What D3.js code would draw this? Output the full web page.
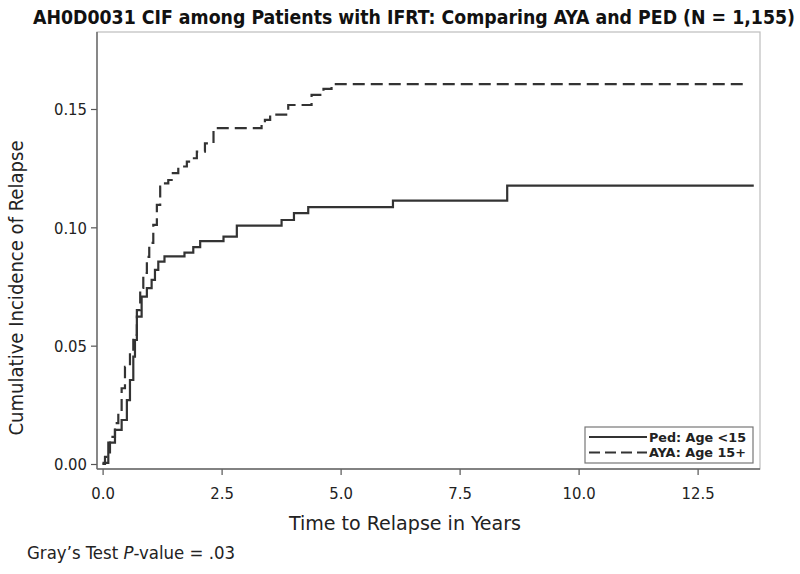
<!DOCTYPE html>
<html><head><meta charset="utf-8">
<script src="https://cdn.jsdelivr.net/npm/d3@7"></script>
<style>body{margin:0;background:#fff}svg{display:block}</style>
</head><body>
<svg id="c" width="800" height="574"></svg>
<script>
// Ped: Age <15 (solid) — step events [time, cumulative incidence]
const pedTime = [0, 0.02, 0.12, 0.26, 0.40, 0.51, 0.575, 0.645, 0.68, 0.72, 0.82, 0.93, 1.03, 1.10, 1.17, 1.30, 1.72, 1.905, 2.05, 2.54, 2.82, 3.76, 4.02, 4.32, 6.10, 8.50, 13.68];
const pedCIF  = [0, 0.0005, 0.009, 0.0144, 0.0186, 0.027, 0.0355, 0.0454, 0.0524, 0.0623, 0.0707, 0.0743, 0.0778, 0.082, 0.0855, 0.0877, 0.0893, 0.0916, 0.0942, 0.0961, 0.1007, 0.1031, 0.106, 0.1085, 0.1113, 0.1176, 0.1176];
// AYA: Age 15+ (dashed)
const ayaTime = [0, 0.05, 0.155, 0.26, 0.33, 0.40, 0.47, 0.575, 0.645, 0.72, 0.79, 0.855, 0.93, 0.98, 1.065, 1.14, 1.21, 1.24, 1.38, 1.45, 1.59, 1.77, 1.87, 1.98, 2.15, 2.33, 3.34, 3.41, 3.52, 3.90, 4.39, 4.64, 4.81, 13.45];
const ayaCIF  = [0, 0.003, 0.0115, 0.0173, 0.0216, 0.032, 0.041, 0.0473, 0.0545, 0.065, 0.0744, 0.0807, 0.0875, 0.0934, 0.101, 0.1095, 0.1172, 0.1186, 0.12, 0.1229, 0.1257, 0.1278, 0.1292, 0.132, 0.1355, 0.1419, 0.144, 0.1454, 0.1476, 0.1517, 0.156, 0.1585, 0.1605, 0.1605];
const xTicks = [0, 2.5, 5, 7.5, 10, 12.5];
const yTicks = [0, 0.05, 0.10, 0.15];
const legendLabels = ["Ped: Age <15", "AYA: Age 15+"];
const titleText = "AH0D0031 CIF among Patients with IFRT: Comparing AYA and PED (N = 1,155)";

const svg = d3.select("#c");
const L = 97, R = 760, T = 32, B = 469;
const x = d3.scaleLinear().domain([0, 12.5]).range([102.6, 102.6 + 5 * 119]);
const y = d3.scaleLinear().domain([0, 0.15]).range([464, 109]);
const font = "'DejaVu Sans Condensed','Liberation Sans Narrow',sans-serif";

// frame
svg.append("rect").attr("x", L).attr("y", T).attr("width", R - L).attr("height", B - T)
  .attr("fill", "none").attr("stroke", "#bdbdbd").attr("stroke-width", 1.2);

// axes
const xAxis = svg.append("g").attr("transform", `translate(0,${B})`)
  .call(d3.axisBottom(x).tickValues(xTicks).tickFormat(d3.format(".1f")).tickSize(6).tickSizeOuter(0));
const yAxis = svg.append("g").attr("transform", `translate(${L},0)`)
  .call(d3.axisLeft(y).tickValues(yTicks).tickFormat(d3.format(".2f")).tickSize(6).tickSizeOuter(0));
[xAxis, yAxis].forEach(a => {
  a.select(".domain").remove();
  a.selectAll("line").attr("stroke", "#555").attr("stroke-width", 1.2);
  a.selectAll("text").attr("fill", "#222").style("font-family", font).style("font-size", "16.5px");
});
xAxis.selectAll("text").attr("dy", "1.25em");
yAxis.selectAll("text").attr("x", -10).attr("dy", "0.35em");
svg.append("line").attr("x1", L).attr("x2", R).attr("y1", B).attr("y2", B).attr("stroke", "#666").attr("stroke-width", 1.4);
svg.append("line").attr("x1", L).attr("x2", L).attr("y1", T).attr("y2", B).attr("stroke", "#666").attr("stroke-width", 1.4);

// curves
const line = d3.line().x(d => x(d[0])).y(d => y(d[1])).curve(d3.curveStepAfter);
svg.append("path").datum(d3.zip(pedTime, pedCIF)).attr("d", line)
  .attr("fill", "none").attr("stroke", "#333").attr("stroke-width", 2.2);
svg.append("path").datum(d3.zip(ayaTime, ayaCIF)).attr("d", line)
  .attr("fill", "none").attr("stroke", "#333").attr("stroke-width", 2.2).attr("stroke-dasharray", "12,6");

// legend
const lg = svg.append("g");
lg.append("rect").attr("x", 585).attr("y", 427).attr("width", 168).attr("height", 36)
  .attr("fill", "#fff").attr("stroke", "#777").attr("stroke-width", 1.2);
legendLabels.forEach((lab, i) => {
  const yy = 437 + i * 15.5;
  lg.append("line").attr("x1", 589).attr("x2", 647).attr("y1", yy).attr("y2", yy)
    .attr("stroke", "#333").attr("stroke-width", 1.8).attr("stroke-dasharray", i ? "11,5" : null);
  lg.append("text").attr("x", 649).attr("y", yy).attr("dy", "0.36em").text(lab)
    .attr("textLength", 97).attr("lengthAdjust", "spacingAndGlyphs")
    .style("font-family", font).style("font-size", "13px").style("font-weight", "bold").attr("fill", "#222");
});

// titles
svg.append("text").attr("x", 414).attr("y", 24).attr("text-anchor", "middle").text(titleText)
  .attr("textLength", 762).attr("lengthAdjust", "spacingAndGlyphs")
  .style("font-family", font).style("font-size", "19px").style("font-weight", "bold").attr("fill", "#111");
svg.append("text").attr("x", 405).attr("y", 530).attr("text-anchor", "middle").text("Time to Relapse in Years")
  .attr("textLength", 232).attr("lengthAdjust", "spacingAndGlyphs")
  .style("font-family", font).style("font-size", "19px").attr("fill", "#222");
svg.append("text").attr("transform", "translate(23,288) rotate(-90)").attr("text-anchor", "middle")
  .text("Cumulative Incidence of Relapse")
  .attr("textLength", 295).attr("lengthAdjust", "spacingAndGlyphs")
  .style("font-family", font).style("font-size", "19px").attr("fill", "#222");
const g = svg.append("text").attr("x", 27).attr("y", 559).attr("textLength", 208).attr("lengthAdjust", "spacingAndGlyphs")
  .style("font-family", font).style("font-size", "17px").attr("fill", "#222");
g.append("tspan").text("Gray’s Test ");
g.append("tspan").text("P").style("font-style", "italic");
g.append("tspan").text("-value = .03");
</script>
</body></html>
